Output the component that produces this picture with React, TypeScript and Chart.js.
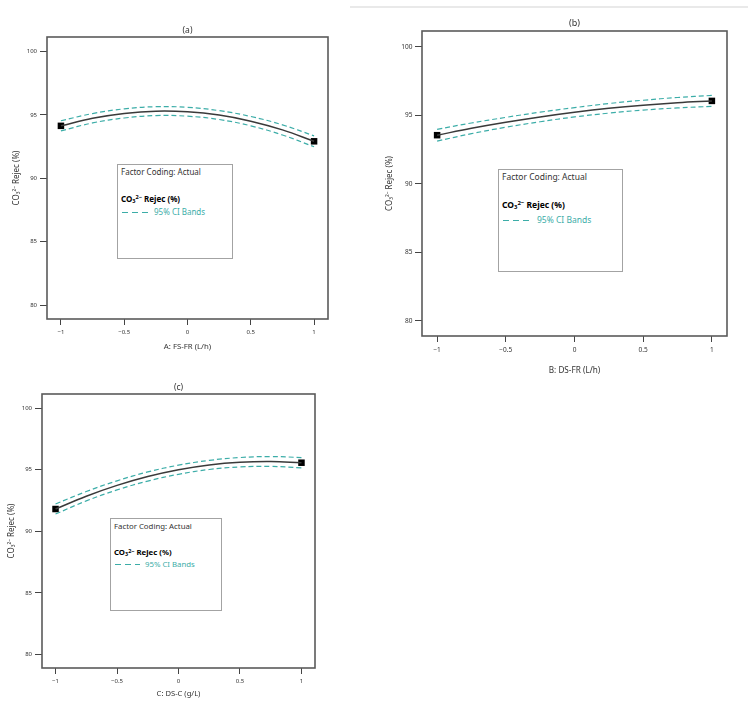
import React, { useEffect, useRef } from 'react';
import { Chart, registerables } from 'chart.js';

Chart.register(...registerables);

// ---- data ----
const xCoded = [-1, -0.75, -0.5, -0.25, 0, 0.25, 0.5, 0.75, 1];
const designX = [-1, 1];
const xTickValues = [-1, -0.5, 0, 0.5, 1];
const yTickValues = [80, 85, 90, 95, 100];

const meanA = [94.14, 94.74, 95.12, 95.30, 95.25, 94.99, 94.51, 93.82, 92.92];
const upperA = [94.54, 95.11, 95.48, 95.65, 95.60, 95.34, 94.88, 94.22, 93.35];
const lowerA = [93.74, 94.37, 94.76, 94.95, 94.90, 94.64, 94.14, 93.42, 92.49];
const pointsA = [94.14, 92.92];

const meanB = [93.55, 94.05, 94.49, 94.88, 95.22, 95.51, 95.74, 95.92, 96.05];
const upperB = [93.98, 94.44, 94.85, 95.23, 95.56, 95.86, 96.10, 96.30, 96.45];
const lowerB = [93.12, 93.66, 94.13, 94.53, 94.88, 95.16, 95.38, 95.54, 95.65];
const pointsB = [93.55, 96.05];

const meanC = [91.81, 92.85, 93.73, 94.45, 95.00, 95.39, 95.61, 95.67, 95.57];
const upperC = [92.22, 93.23, 94.10, 94.82, 95.37, 95.76, 95.99, 96.07, 95.99];
const lowerC = [91.40, 92.47, 93.36, 94.08, 94.63, 95.02, 95.23, 95.27, 95.15];
const pointsC = [91.81, 95.57];

const titles = ['(a)', '(b)', '(c)'];
const xTitles = ['A: FS-FR (L/h)', 'B: DS-FR (L/h)', 'C: DS-C (g/L)'];
const yTitle = 'CO\u2083\u00B2\u207B Rejec (%)';

// ---- styling / layout ----
const FONT = '"Noto Sans", "Open Sans", sans-serif';
const TEAL = '#3cada8';
const CURVE = '#3a3a3a';

type Box = { l: number; t: number; r: number; b: number };
type PanelCfg = {
  title: string;
  xTitle: string;
  mean: number[];
  upper: number[];
  lower: number[];
  points: number[];
  canvas: { L: number; T: number; W: number; H: number };
  box: Box;
  titleGap: number;
  titleFont: number;
  xTitlePad: number;
  yTitlePad: number;
  xTickPad: number;
  yTickPad: number;
  tickFont: number;
  axisFont: number;
  yTitleFont: number;
  legend: { l: number; t: number; w: number; h: number; y1: number; y2: number; y3: number; font: number; dashW: number; textX: number };
};

const panels: PanelCfg[] = [
  {
    title: titles[0], xTitle: xTitles[0], mean: meanA, upper: upperA, lower: lowerA, points: pointsA,
    canvas: { L: 0, T: 15, W: 345, H: 345 },
    box: { l: 47, t: 37, r: 328, b: 319 },
    titleGap: 6, titleFont: 8.5, xTitlePad: 9, yTitlePad: 11.5, xTickPad: 3.5, yTickPad: 3, tickFont: 6, axisFont: 7.8, yTitleFont: 8,
    legend: { l: 117, t: 164, w: 116, h: 95, y1: 7, y2: 34, y3: 47, font: 8, dashW: 26, textX: 36 },
  },
  {
    title: titles[1], xTitle: xTitles[1], mean: meanB, upper: upperB, lower: lowerB, points: pointsB,
    canvas: { L: 370, T: 10, W: 370, H: 380 },
    box: { l: 422, t: 31, r: 727, b: 336 },
    titleGap: 8, titleFont: 9, xTitlePad: 14, yTitlePad: 15, xTickPad: 4.5, yTickPad: 2.5, tickFont: 6.5, axisFont: 8.2, yTitleFont: 8,
    legend: { l: 498, t: 169, w: 125, h: 103, y1: 7, y2: 35, y3: 50, font: 8.5, dashW: 29, textX: 38 },
  },
  {
    title: titles[2], xTitle: xTitles[2], mean: meanC, upper: upperC, lower: lowerC, points: pointsC,
    canvas: { L: 0, T: 375, W: 330, H: 332 },
    box: { l: 42, t: 394, r: 315, b: 668 },
    titleGap: 6.5, titleFont: 8.5, xTitlePad: 9, yTitlePad: 6.5, xTickPad: 3.5, yTickPad: 3, tickFont: 6, axisFont: 7.6, yTitleFont: 8,
    legend: { l: 110, t: 518, w: 112, h: 93, y1: 7, y2: 33, y3: 45, font: 7.8, dashW: 25, textX: 34 },
  },
];

const fmt = (v: number) => (v === 0 ? '0' : v < 0 ? '\u2212' + String(Math.abs(v)) : String(v));

function PanelChart({ p }: { p: PanelCfg }) {
  const ref = useRef<HTMLCanvasElement>(null);

  useEffect(() => {
    const c = p.canvas;
    const bx = p.box;
    const framePlugin = {
      id: 'frame' + p.title,
      beforeDatasetsDraw(chart: any) {
        const { ctx, chartArea: a } = chart;
        ctx.save();
        ctx.strokeStyle = '#5a5a5a';
        ctx.lineWidth = 1.6;
        ctx.strokeRect(a.left, a.top, a.right - a.left, a.bottom - a.top);
        ctx.restore();
      },
      afterDraw(chart: any) {
        const { ctx, chartArea: a } = chart;
        ctx.save();
        ctx.fillStyle = '#333';
        ctx.font = `${p.titleFont}px ${FONT}`;
        ctx.textAlign = 'center';
        ctx.textBaseline = 'middle';
        ctx.fillText(p.title, (a.left + a.right) / 2, a.top - p.titleGap);
        ctx.restore();
      },
    };

    const toXY = (ys: number[]) => xCoded.map((x, i) => ({ x, y: ys[i] }));

    const chart = new Chart(ref.current as HTMLCanvasElement, {
      type: 'line',
      data: {
        datasets: [
          {
            label: '95% CI upper',
            data: toXY(p.upper),
            borderColor: TEAL,
            borderDash: [5, 3],
            borderWidth: 1.2,
            pointRadius: 0,
            tension: 0.4,
            fill: false,
          },
          {
            label: '95% CI lower',
            data: toXY(p.lower),
            borderColor: TEAL,
            borderDash: [5, 3],
            borderWidth: 1.2,
            pointRadius: 0,
            tension: 0.4,
            fill: false,
          },
          {
            label: 'CO3 Rejec',
            data: toXY(p.mean),
            borderColor: CURVE,
            borderWidth: 1.5,
            pointRadius: 0,
            tension: 0.4,
            fill: false,
          },
          {
            type: 'scatter',
            label: 'design points',
            data: designX.map((x, i) => ({ x, y: p.points[i] })),
            pointStyle: 'rect',
            pointRadius: 4.6,
            backgroundColor: '#000',
            borderColor: '#000',
            borderWidth: 0,
            showLine: false,
          } as any,
        ],
      },
      options: {
        animation: false,
        responsive: false,
        maintainAspectRatio: false,
        layout: {
          padding: { top: bx.t - c.T, right: c.L + c.W - bx.r, left: 0, bottom: 0 },
        },
        plugins: {
          legend: { display: false },
          tooltip: { enabled: false },
          title: { display: false },
        },
        scales: {
          x: {
            type: 'linear',
            min: -1.11,
            max: 1.11,
            afterBuildTicks: (s: any) => {
              s.ticks = xTickValues.map((v) => ({ value: v }));
            },
            afterFit: (s: any) => {
              s.height = c.T + c.H - bx.b;
            },
            grid: { drawOnChartArea: false, drawTicks: true, tickLength: 6, color: '#444', lineWidth: 1 },
            border: { display: false },
            ticks: {
              autoSkip: false,
              maxRotation: 0,
              padding: p.xTickPad,
              color: '#333',
              font: { family: FONT, size: p.tickFont },
              callback: (v: any) => fmt(Number(v)),
            },
            title: {
              display: true,
              text: p.xTitle,
              color: '#333',
              font: { family: FONT, size: p.axisFont },
              padding: { top: 0, bottom: p.xTitlePad },
            },
          },
          y: {
            type: 'linear',
            min: 78.9,
            max: 101.15,
            afterBuildTicks: (s: any) => {
              s.ticks = yTickValues.map((v) => ({ value: v }));
            },
            afterFit: (s: any) => {
              s.width = bx.l - c.L;
            },
            grid: { drawOnChartArea: false, drawTicks: true, tickLength: 7, color: '#444', lineWidth: 1 },
            border: { display: false },
            ticks: {
              autoSkip: false,
              padding: p.yTickPad,
              color: '#333',
              font: { family: FONT, size: p.tickFont },
              callback: (v: any) => String(v),
            },
            title: {
              display: true,
              text: yTitle,
              color: '#333',
              font: { family: FONT, size: p.yTitleFont },
              padding: { top: p.yTitlePad, bottom: 0 },
            },
          },
        },
      } as any,
      plugins: [framePlugin],
    });
    return () => chart.destroy();
  }, [p]);

  const lg = p.legend;
  const line = (y: number, fs: number) => ({
    position: 'absolute' as const,
    left: 3,
    top: y - 7,
    height: 14,
    lineHeight: '14px',
    fontSize: fs,
    whiteSpace: 'nowrap' as const,
  });

  return (
    <>
      <canvas
        ref={ref}
        width={p.canvas.W}
        height={p.canvas.H}
        style={{ position: 'absolute', left: p.canvas.L, top: p.canvas.T, width: p.canvas.W, height: p.canvas.H, display: 'block' }}
      />
      <div
        style={{
          position: 'absolute',
          left: lg.l,
          top: lg.t,
          width: lg.w,
          height: lg.h,
          boxSizing: 'border-box',
          border: '1.3px solid #a3a3a3',
          background: '#fff',
          fontFamily: FONT,
        }}
      >
        <div style={{ ...line(lg.y1, lg.font), color: '#333' }}>Factor Coding: Actual</div>
        <div style={{ ...line(lg.y2, lg.font), color: '#000', fontWeight: 700 }}>
          CO<sub style={{ fontSize: '0.7em', verticalAlign: '-0.25em', lineHeight: 0 }}>3</sub>
          <sup style={{ fontSize: '0.7em', verticalAlign: '0.45em', lineHeight: 0 }}>2−</sup>&nbsp;Rejec (%)
        </div>
        <div style={{ ...line(lg.y3, lg.font), color: TEAL }}>
          <svg width={lg.dashW} height={14} style={{ position: 'absolute', left: 1, top: 0 }}>
            <line x1={0} y1={7.5} x2={lg.dashW} y2={7.5} stroke={TEAL} strokeWidth={1.2} strokeDasharray="6 4" />
          </svg>
          <span style={{ position: 'absolute', left: lg.textX - 3, top: 0 }}>95% CI Bands</span>
        </div>
      </div>
    </>
  );
}

export default function App() {
  return (
    <div style={{ position: 'absolute', left: 0, top: 0, width: 753, height: 707, background: '#fff', overflow: 'hidden' }}>
      <div style={{ position: 'absolute', left: 350, top: 6, width: 398, height: 1.5, background: '#e9e9e9' }} />
      {panels.map((p) => (
        <PanelChart key={p.title} p={p} />
      ))}
    </div>
  );
}
